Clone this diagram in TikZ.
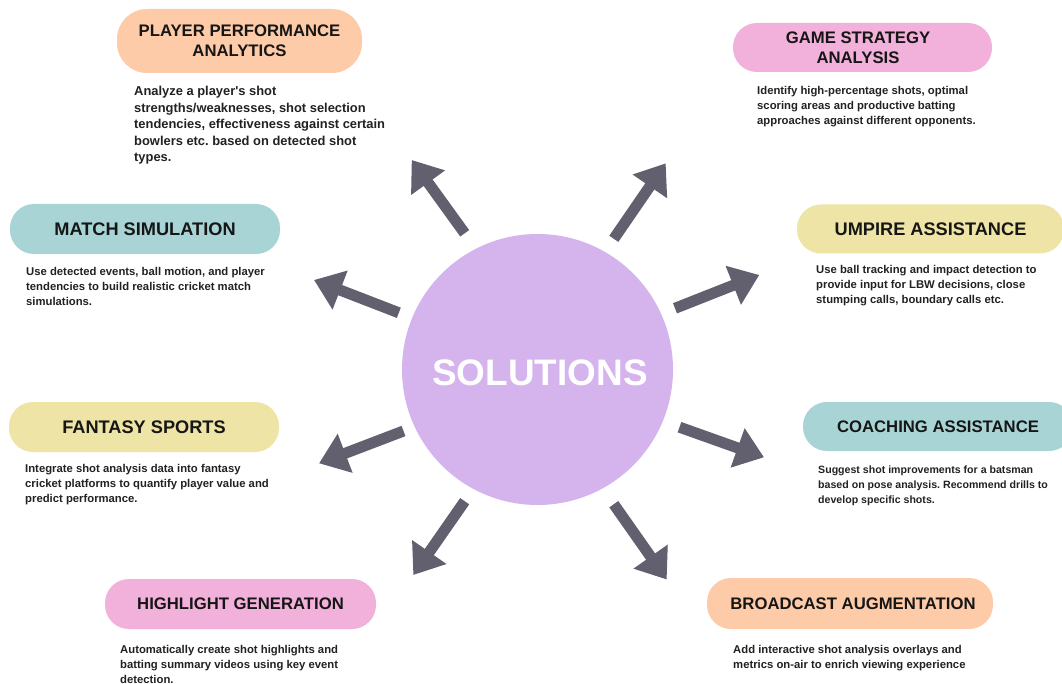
\documentclass[tikz,border=0pt]{standalone}
\usepackage{fontspec}
\setmainfont{Liberation Sans}
\usetikzlibrary{arrows.meta}
\frenchspacing

\definecolor{hubfill}{HTML}{D5B4EE}
\definecolor{peach}{HTML}{FDCBA8}
\definecolor{rose}{HTML}{F2B1DA}
\definecolor{teal}{HTML}{A8D4D5}
\definecolor{sand}{HTML}{EEE4A6}
\definecolor{raygrey}{HTML}{625F6E}
\definecolor{headink}{HTML}{161616}
\definecolor{bodyink}{HTML}{222222}

\begin{document}
\begin{tikzpicture}[x=1pt,y=-1pt,
  pill/.style={rounded corners=24pt, inner sep=0pt, align=center, text=headink,
               font=\bfseries\fontsize{16.7}{20}\selectfont},
  bigpill/.style={pill, font=\bfseries\fontsize{18.2}{22}\selectfont},
  desc/.style={anchor=north west, inner sep=0pt, align=left, text=bodyink,
               font=\bfseries\fontsize{11.3}{15}\selectfont},
  ray/.style={line width=11pt, draw=raygrey, -{Triangle[length=28pt,width=40pt]}}]

\useasboundingbox (0,0) rectangle (1062,684);
\clip (0,0) rectangle (1062,684);
\fill[white] (0,0) rectangle (1062,684);

% central hub
\node[circle, fill=hubfill, minimum size=271pt, inner sep=0pt] (hub) at (537.5,369.5) {};
\node[text=white, inner sep=0pt, font=\bfseries\fontsize{36.9}{40}\selectfont] (hubtext) at (540,373) {SOLUTIONS};

% rays leaving the hub
\coordinate (t1) at (464.7,233.3);  \coordinate (h1) at (411.7,160);
\coordinate (t2) at (613.8,238.8);  \coordinate (h2) at (665.7,163.3);
\coordinate (t3) at (398.8,312.8);  \coordinate (h3) at (314,280);
\coordinate (t4) at (675,308.3);    \coordinate (h4) at (759.3,275);
\coordinate (t5) at (403.5,431);    \coordinate (h5) at (319,463.3);
\coordinate (t6) at (679.5,427.2);  \coordinate (h6) at (764,457.3);
\coordinate (t7) at (464.7,501.2);  \coordinate (h7) at (413.3,575);
\coordinate (t8) at (613.8,504.2);  \coordinate (h8) at (666.7,579.5);
\foreach \i in {1,...,8} { \draw[ray] (t\i) -- (h\i); }

% solution headings
\node[pill, fill=peach, rounded corners=30pt, minimum width=245pt, minimum height=64pt] (perf) at (239.5,41)
  {PLAYER PERFORMANCE\\ANALYTICS};
\node[pill, fill=rose, minimum width=259pt, minimum height=49pt] (strat) at (862.5,47.5)
  {\hspace*{-9pt}GAME STRATEGY\\\hspace*{-9pt}ANALYSIS};
\node[bigpill, fill=teal, minimum width=270pt, minimum height=50pt] (sim) at (145,229)
  {MATCH SIMULATION};
\node[bigpill, fill=sand, minimum width=267pt, minimum height=49pt] (ump) at (930.5,229)
  {UMPIRE ASSISTANCE};
\node[bigpill, fill=sand, minimum width=270pt, minimum height=50pt] (fant) at (144,427)
  {FANTASY SPORTS};
\node[pill, fill=teal, minimum width=270pt, minimum height=49pt] (coach) at (938,426.5)
  {COACHING ASSISTANCE};
\node[pill, fill=rose, minimum width=271pt, minimum height=50pt] (high) at (240.5,604)
  {HIGHLIGHT GENERATION};
\node[pill, fill=peach, minimum width=286pt, minimum height=51pt] (broad) at (850,603.5)
  {\hspace*{6pt}BROADCAST AUGMENTATION};

% descriptions
\node[desc, font=\bfseries\fontsize{12.9}{16.6}\selectfont] (perfdesc) at (134,86)
  {Analyze a player\textquotesingle s shot\\strengths/weaknesses, shot selection\\tendencies, effectiveness against certain\\bowlers etc. based on detected shot\\types.};
\node[desc] (stratdesc) at (757,86)
  {Identify high-percentage shots, optimal\\scoring areas and productive batting\\approaches against different opponents.};
\node[desc] (simdesc) at (26,266.7)
  {Use detected events, ball motion, and player\\tendencies to build realistic cricket match\\simulations.};
\node[desc] (umpdesc) at (816,265.5)
  {Use ball tracking and impact detection to\\provide input for LBW decisions, close\\stumping calls, boundary calls etc.};
\node[desc] (fantdesc) at (25,464)
  {Integrate shot analysis data into fantasy\\cricket platforms to quantify player value and\\predict performance.};
\node[desc, font=\bfseries\fontsize{10.6}{15.3}\selectfont] (coachdesc) at (818,465.5)
  {Suggest shot improvements for a batsman\\based on pose analysis. Recommend drills to\\develop specific shots.};
\node[desc] (highdesc) at (120,645)
  {Automatically create shot highlights and\\batting summary videos using key event\\detection.};
\node[desc] (broaddesc) at (733,645)
  {Add interactive shot analysis overlays and\\metrics on-air to enrich viewing experience};

\end{tikzpicture}
\end{document}
